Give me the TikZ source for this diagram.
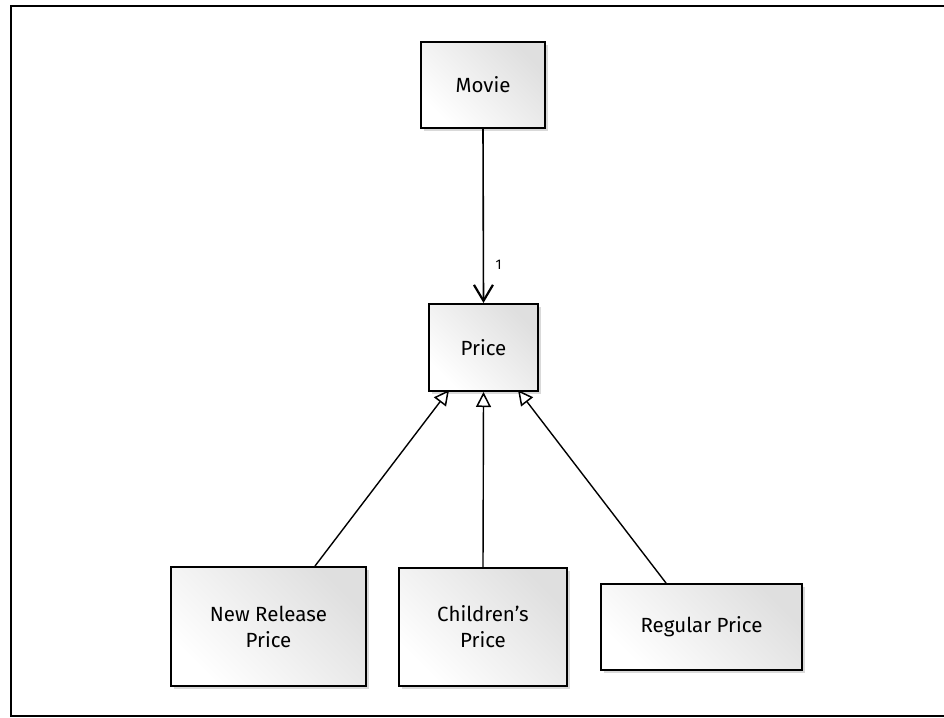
\documentclass[tikz,border=0pt]{standalone}
\usepackage{fontspec}
\setmainfont{Fira Sans}
\usetikzlibrary{arrows.meta,shadows}
\begin{document}
\begin{tikzpicture}[x=1pt,y=-1pt,
  cls/.style={draw=black, line width=2pt, shading=axis, left color=white, right color=gray!25, shading angle=135,
    drop shadow={shadow xshift=3pt, shadow yshift=-3pt, opacity=0.3, fill=gray},
    font=\fontsize{20.5}{26}\selectfont, align=center, inner sep=0pt, anchor=north west},
  assoc/.style={line width=1.6pt, -{Straight Barb[length=16pt,width=19pt,line width=2.2pt]}},
  inherit/.style={line width=1.4pt, -{Triangle[open,length=15pt,width=15pt,line width=1.5pt,fill=white]}}]
\useasboundingbox (0,0) rectangle (944,717);
\draw[line width=1.2pt] (944,6) -- (11,6) -- (11,716) -- (944,716);
\node[cls, minimum width=124pt, minimum height=86pt] (movie) at (420,41) {Movie};
\node[cls, minimum width=109pt, minimum height=87pt] (price) at (428,303) {Price};
\node[cls, minimum width=195pt, minimum height=119pt] (nrp) at (170,566) {New Release\\Price};
\node[cls, minimum width=168pt, minimum height=118pt] (cp) at (398,567) {Children's\\Price};
\node[cls, minimum width=201pt, minimum height=86pt] (rp) at (600,583) {Regular Price};
\draw[assoc] (movie.south) -- node[right, pos=0.78, xshift=8pt, font=\fontsize{14}{16}\selectfont] (one) {1} (price.north);
\coordinate (t1) at (449,390);
\coordinate (t3) at (518,390);
\coordinate (s1) at (315,566);
\coordinate (s3) at (666,583);
\draw[inherit] (s1) -- (t1);
\draw[inherit] (cp.north) -- (price.south);
\draw[inherit] (s3) -- (t3);
\end{tikzpicture}
\end{document}
